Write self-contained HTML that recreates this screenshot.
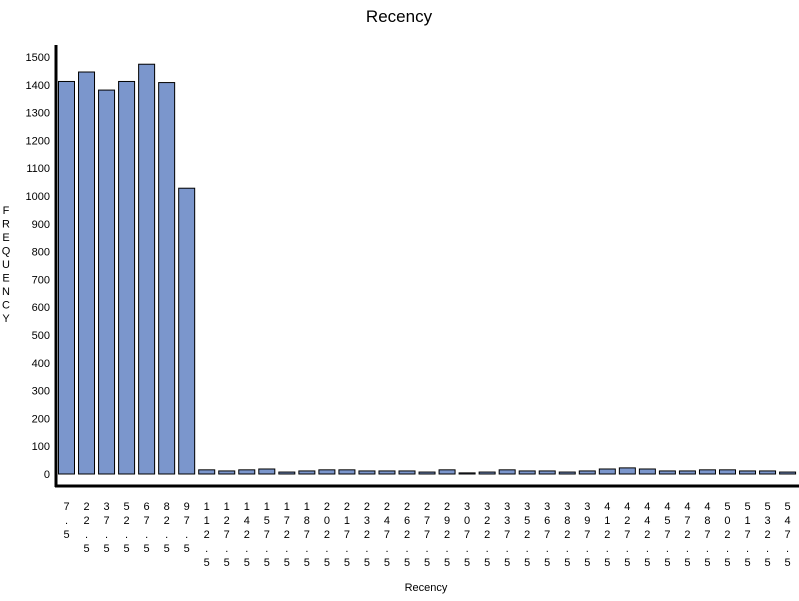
<!DOCTYPE html>
<html><head><meta charset="utf-8"><style>
html,body{margin:0;padding:0;background:#fff;}
svg{display:block;font-family:"Liberation Sans",Arial,sans-serif;}
</style></head><body>
<svg id="c" width="799" height="601">
<text x="399" y="22" text-anchor="middle" font-size="17">Recency</text>
<text x="426" y="591" text-anchor="middle" font-size="11">Recency</text>
<g id="ytitle"></g>
<g id="bars"></g>
<g id="yticks"></g>
<g id="xticks"></g>
<line x1="56" y1="45" x2="56" y2="487" stroke="#000" stroke-width="3"/>
<line x1="55" y1="486" x2="799" y2="486" stroke="#000" stroke-width="3"/>
</svg>
<script>
const categories = ["7.5","22.5","37.5","52.5","67.5","82.5","97.5","112.5","127.5","142.5","157.5","172.5","187.5","202.5","217.5","232.5","247.5","262.5","277.5","292.5","307.5","322.5","337.5","352.5","367.5","382.5","397.5","412.5","427.5","442.5","457.5","472.5","487.5","502.5","517.5","532.5","547.5"];
const frequency = [1412,1446,1381,1412,1474,1408,1028,15,11,15,18,7,11,15,15,11,11,11,7,15,4,7,15,11,11,7,11,18,22,18,11,11,15,15,11,11,7];
const yTicks = [0,100,200,300,400,500,600,700,800,900,1000,1100,1200,1300,1400,1500];
const yTitle = "FREQUENCY";
const NS="http://www.w3.org/2000/svg";
function y(v){return 474 - v*0.278;}
function x(i){return 58 + i*20.03;}
function mk(t,a,p){const e=document.createElementNS(NS,t);for(const k in a)e.setAttribute(k,a[k]);p.appendChild(e);return e;}
const bars=document.getElementById('bars');
frequency.forEach((v,i)=>{
  const r=mk('rect',{x:x(i)+0.5,y:y(v),width:16,height:474-y(v),fill:'#7b96cc',stroke:'#000','stroke-width':1},bars);
  
  
});
const yt=document.getElementById('yticks');
yTicks.forEach(v=>{
  const t=mk('text',{x:50,y:y(v)+4,'text-anchor':'end','font-size':11},yt);
  t.textContent=v;
  
  
});
const xt=document.getElementById('xticks');
categories.forEach((c,i)=>{
  const g=mk('g',{},xt);
  
  
  [...c].forEach((ch,j)=>{
    const t=mk('text',{x:x(i)+8.5,y:510+j*14,'text-anchor':'middle','font-size':11},g);
    t.textContent=ch;
  });
});
const ytl=document.getElementById('ytitle');
[...yTitle].forEach((ch,j)=>{
  const t=mk('text',{x:6,y:214+j*13.5,'text-anchor':'middle','font-size':11},ytl);
  t.textContent=ch;
});
</script>
</body></html>
